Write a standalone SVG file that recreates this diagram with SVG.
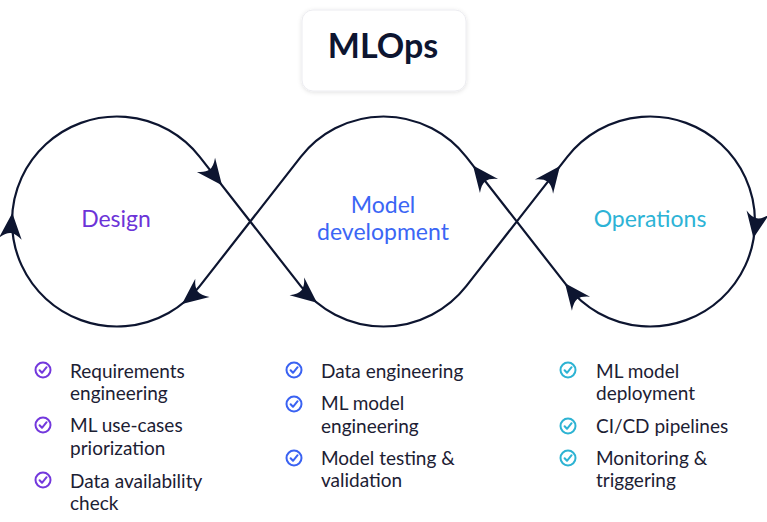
<svg xmlns="http://www.w3.org/2000/svg" width="767" height="522" viewBox="0 0 767 522">
<style>
.loop{fill:none;stroke:#0d1530;stroke-width:2.2}
.ah{fill:#0d1530}
.lbl{font-family:Lato,"Liberation Sans",sans-serif;font-size:23px;text-anchor:middle}
.item{font-family:Lato,"Liberation Sans",sans-serif;font-size:19px;fill:#1c2033}
.ck{fill:none;stroke-width:2;stroke-linecap:round;stroke-linejoin:round}
.purple{stroke:#7338dd}
.blue{stroke:#3a62f2}
.cyan{stroke:#2db3d3}
</style>
<defs>
<path id="ah" d="M0 0 L-26 -11.5 Q-20 -5 -20 0 Q-20 5 -26 11.5 Z"/>
<g id="chk"><circle cx="0" cy="0" r="7.5"/><path d="M-3.4 0.2 L-1 2.8 L3.6 -2.8"/></g>
<filter id="sh" x="-20%" y="-20%" width="140%" height="150%"><feDropShadow dx="0" dy="1" stdDeviation="2" flood-color="#000" flood-opacity="0.12"/></filter>
</defs>
<rect width="767" height="522" fill="#fff"/>

<g id="title">
<rect x="302" y="10" width="164" height="81" rx="11" fill="#fff" stroke="#ececf0" filter="url(#sh)"/>
<text x="383" y="58" font-family="Lato,'Liberation Sans',sans-serif" font-size="34" font-weight="bold" fill="#0d1530" text-anchor="middle">MLOps</text>
</g>

<g id="connectors">
<path class="loop" d="M199.75 286.15 A105 105 0 1 1 199.75 156.85 L300.75 286.15 A105 105 0 0 0 466.25 286.15 L567.25 156.85 A105 105 0 1 1 567.25 286.15 L466.25 156.85 A105 105 0 0 0 300.75 156.85 Z"/>
<use href="#ah" class="ah" transform="translate(222 185.3) rotate(52)"/>
<use href="#ah" class="ah" transform="translate(12.3 213) rotate(-85.4)"/>
<use href="#ah" class="ah" transform="translate(182 304) rotate(141.7)"/>
<use href="#ah" class="ah" transform="translate(317 302.8) rotate(39.3)"/>
<use href="#ah" class="ah" transform="translate(473 165.5) rotate(-128)"/>
<use href="#ah" class="ah" transform="translate(560 166.1) rotate(-52)"/>
<use href="#ah" class="ah" transform="translate(753.4 238) rotate(100)"/>
<use href="#ah" class="ah" transform="translate(565 283.3) rotate(-128)"/>
</g>

<g id="design">
<text class="lbl" x="116" y="227" fill="#6c34d8">Design</text>
</g>
<g id="model-development">
<text class="lbl" x="383" y="213" fill="#3b66f5">Model</text>
<text class="lbl" x="383" y="240" fill="#3b66f5">development</text>
</g>
<g id="operations">
<text class="lbl" x="650" y="227" fill="#2db3d6">Operations</text>
</g>

<g id="design-list">
<use href="#chk" class="ck purple" x="43" y="370"/>
<text class="item" x="70" y="377.5">Requirements</text>
<text class="item" x="70" y="400">engineering</text>
<use href="#chk" class="ck purple" x="43" y="425"/>
<text class="item" x="70" y="432">ML use-cases</text>
<text class="item" x="70" y="454.5">priorization</text>
<use href="#chk" class="ck purple" x="43" y="480"/>
<text class="item" x="70" y="487.5">Data availability</text>
<text class="item" x="70" y="510">check</text>
</g>

<g id="model-list">
<use href="#chk" class="ck blue" x="294" y="370"/>
<text class="item" x="321" y="377.5">Data engineering</text>
<use href="#chk" class="ck blue" x="294" y="404"/>
<text class="item" x="321" y="410">ML model</text>
<text class="item" x="321" y="432.5">engineering</text>
<use href="#chk" class="ck blue" x="294" y="458"/>
<text class="item" x="321" y="465">Model testing &amp;</text>
<text class="item" x="321" y="487">validation</text>
</g>

<g id="operations-list">
<use href="#chk" class="ck cyan" x="568" y="370"/>
<text class="item" x="596" y="377.5">ML model</text>
<text class="item" x="596" y="400">deployment</text>
<use href="#chk" class="ck cyan" x="568" y="426"/>
<text class="item" x="596" y="432.5">CI/CD pipelines</text>
<use href="#chk" class="ck cyan" x="568" y="458"/>
<text class="item" x="596" y="465">Monitoring &amp;</text>
<text class="item" x="596" y="487">triggering</text>
</g>
</svg>
